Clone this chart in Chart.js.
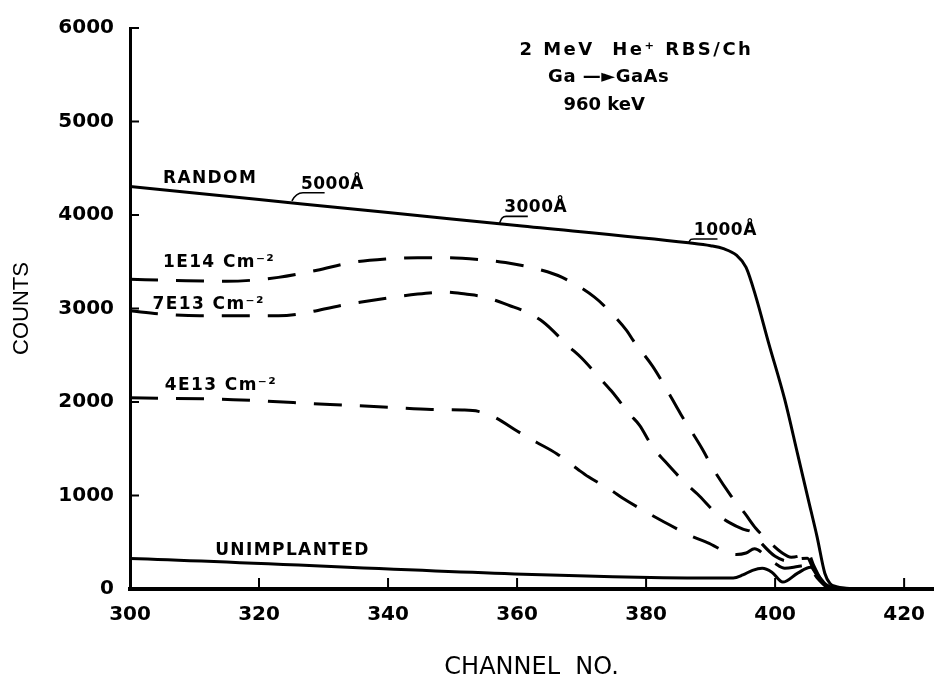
<!DOCTYPE html>
<html>
<head>
<meta charset="utf-8">
<title>RBS/Ch spectra</title>
<script src="https://cdn.jsdelivr.net/npm/chart.js@4.4.1/dist/chart.umd.min.js"></script>
<style>
    html, body { margin: 0; padding: 0; background: #fff; }
    #wrap { width: 939px; height: 680px; }
</style>
</head>
<body>
<div id="wrap"><canvas id="rbsChart" width="939" height="680"></canvas></div>
<script>
// Spectra: channel number and counts for each curve
const randomCh = [300, 320, 340, 360, 386.6, 390, 392, 394, 395.5, 397, 399, 401.5, 403.5, 405.1, 406.5, 407.7, 408.5, 409.5, 411, 413, 424.5];
const randomCounts = [4304, 4165, 4026, 3888, 3703, 3672, 3640, 3570, 3440, 3130, 2630, 2025, 1440, 970, 560, 169, 60, 25, 8, 0, 0];

const e14Ch = [300, 307, 315, 323, 329, 334.3, 340, 344.6, 348.8, 354.2, 358.2, 363.4, 367, 372, 374, 377, 378, 381, 382.6, 385.4, 388.8, 390.3, 393, 395.4, 397, 399, 401, 402.5, 404, 405, 406, 407.5, 409];
const e14Counts = [3312, 3300, 3291, 3333, 3410, 3491, 3530, 3544, 3544, 3523, 3491, 3418, 3333, 3122, 2995, 2764, 2658, 2384, 2205, 1867, 1487, 1297, 1013, 800, 650, 510, 390, 340, 360, 400, 250, 60, 0];

const e13hiCh = [300, 305, 310.8, 323, 334, 344.6, 349, 352, 355, 359, 361, 364, 368, 370, 372.8, 374.6, 377.5, 379, 381, 383, 385.7, 388, 391, 393, 395, 396.6, 398, 400, 402, 403.5, 405, 406, 407.5, 409];
const e13hiCounts = [2975, 2940, 2922, 2922, 3049, 3154, 3175, 3154, 3122, 3027, 2975, 2859, 2595, 2470, 2257, 2120, 1867, 1751, 1519, 1360, 1160, 1013, 802, 707, 640, 601, 480, 350, 300, 320, 330, 200, 50, 0];

const e13loCh = [300, 316, 331, 340, 346.7, 351.5, 354, 356.6, 360, 363, 366.2, 369.5, 371, 374.6, 376.4, 380.3, 382.8, 386.9, 389.5, 394, 395.5, 396.8, 398.8, 400, 401.5, 403.5, 405, 406.5, 408, 409];
const e13loCounts = [2046, 2025, 1973, 1945, 1920, 1915, 1900, 1835, 1690, 1570, 1445, 1276, 1203, 1055, 970, 812, 717, 570, 496, 369, 385, 430, 338, 274, 222, 240, 255, 120, 20, 0];

const unimplCh = [300, 393.5, 395, 396.5, 398, 399.5, 401.2, 403.5, 405.5, 406.5, 408, 409.5, 412, 424.5];
const unimplCounts = [327, 117, 150, 200, 222, 180, 74, 170, 232, 160, 42, 10, 0, 0];

// Axis ticks
const xTickValues = [300, 320, 340, 360, 380, 400, 420];
const yTickValues = [0, 1000, 2000, 3000, 4000, 5000, 6000];

// Text placed on the plot (channel, counts of the text anchor)
const curveLabels = [
    { text: 'RANDOM', ch: 305.1, counts: 4345 },
    { text: '1E14 Cm⁻²', ch: 305.1, counts: 3448 },
    { text: '7E13 Cm⁻²', ch: 303.5, counts: 2995 },
    { text: '4E13 Cm⁻²', ch: 305.4, counts: 2130 },
    { text: 'UNIMPLANTED', ch: 313.2, counts: 359 }
];
const depthMarks = [
    { text: '5000Å', ch: 326.5, counts: 4281, toCh: 325.1, toCounts: 4150 },
    { text: '3000Å', ch: 358.0, counts: 4028, toCh: 357.2, toCounts: 3900 },
    { text: '1000Å', ch: 387.4, counts: 3786, toCh: 386.6, toCounts: 3705 }
];
const headerLines = [
    { text: '2 MeV  He⁺ RBS/Ch', ch: 378.5, counts: 5715 },
    { text: 'Ga —►GaAs', ch: 374.2, counts: 5420 },
    { text: '960 keV', ch: 373.5, counts: 5125 }
];
const headerSpacing = ['2.5px', '0.5px', '0px'];

const X_MAX = 424.5;
const DASH = [28, 18];

function toPoints(xs, ys) {
    return xs.map((x, i) => ({ x: x, y: ys[i] }));
}

function drawText(ctx, text, x, y, align, font, spacing) {
    ctx.font = font;
    ctx.textAlign = align;
    ctx.textBaseline = 'alphabetic';
    if ('letterSpacing' in ctx) ctx.letterSpacing = spacing || '0px';
    ctx.fillText(text, x, y);
    if ('letterSpacing' in ctx) ctx.letterSpacing = '0px';
}

// Ticks pointing into the plot area
const inwardTicks = {
    id: 'inwardTicks',
    afterDatasetsDraw(chart) {
        const { ctx, scales: { x, y } } = chart;
        ctx.save();
        ctx.strokeStyle = '#000';
        ctx.lineWidth = 2;
        ctx.setLineDash([]);
        yTickValues.forEach(v => {
            if (v === 0) return;
            const py = y.getPixelForValue(v);
            ctx.beginPath();
            ctx.moveTo(x.left, py);
            ctx.lineTo(x.left + 9, py);
            ctx.stroke();
        });
        xTickValues.forEach(v => {
            if (v === xTickValues[0]) return;
            const px = x.getPixelForValue(v);
            ctx.beginPath();
            ctx.moveTo(px, y.bottom);
            ctx.lineTo(px, y.bottom - 11);
            ctx.stroke();
        });
        ctx.restore();
    }
};

// Curve names, depth markers and the experiment header
const plotText = {
    id: 'plotText',
    afterDatasetsDraw(chart) {
        const { ctx, scales: { x, y } } = chart;
        ctx.save();
        ctx.setLineDash([]);
        ctx.fillStyle = '#000';
        ctx.strokeStyle = '#000';

        curveLabels.forEach(l => {
            drawText(ctx, l.text, x.getPixelForValue(l.ch), y.getPixelForValue(l.counts),
                'left', 'bold 17px "DejaVu Sans"', '1.4px');
        });

        depthMarks.forEach(m => {
            const tx = x.getPixelForValue(m.ch);
            const ty = y.getPixelForValue(m.counts);
            drawText(ctx, m.text, tx, ty, 'left', 'bold 17px "DejaVu Sans"', '0.5px');
            // underline below the first two digits, bent down to the curve
            ctx.font = 'bold 17px "DejaVu Sans"';
            const w = ctx.measureText(m.text.slice(0, 2)).width;
            const uy = ty + 4;
            const px = x.getPixelForValue(m.toCh);
            const py = y.getPixelForValue(m.toCounts);
            ctx.lineWidth = 1.6;
            ctx.beginPath();
            ctx.moveTo(px, py);
            ctx.bezierCurveTo(px + 2, py - 4, tx - 3, uy, tx + 2, uy);
            ctx.lineTo(tx + w, uy);
            ctx.stroke();
        });

        headerLines.forEach((h, i) => {
            drawText(ctx, h.text, x.getPixelForValue(h.ch), y.getPixelForValue(h.counts),
                'center', 'bold 18px "DejaVu Sans"', headerSpacing[i]);
        });
        ctx.restore();
    }
};

function solidLine(data) {
    return {
        data: data,
        borderColor: '#000',
        borderWidth: 3,
        pointRadius: 0,
        fill: false,
        cubicInterpolationMode: 'monotone'
    };
}

function dashedLine(data) {
    const ds = solidLine(data);
    ds.borderDash = DASH;
    return ds;
}

function initChart() {
    const ctx = document.getElementById('rbsChart').getContext('2d');

    Chart.defaults.font.family = '"DejaVu Sans"';
    Chart.defaults.color = '#000';

    new Chart(ctx, {
        type: 'line',
        data: {
            datasets: [
                solidLine(toPoints(randomCh, randomCounts)),
                dashedLine(toPoints(e14Ch, e14Counts)),
                dashedLine(toPoints(e13hiCh, e13hiCounts)),
                dashedLine(toPoints(e13loCh, e13loCounts)),
                solidLine(toPoints(unimplCh, unimplCounts))
            ]
        },
        options: {
            responsive: false,
            animation: false,
            layout: { padding: { top: 20, right: 0, left: 0, bottom: 0 } },
            plugins: {
                legend: { display: false },
                tooltip: { enabled: false }
            },
            scales: {
                x: {
                    type: 'linear',
                    min: xTickValues[0],
                    max: X_MAX,
                    afterBuildTicks: s => { s.ticks = xTickValues.map(v => ({ value: v })); },
                    afterFit: s => { s.height = 91; },
                    grid: { display: false, drawTicks: false },
                    border: { display: true, width: 4, color: '#000' },
                    ticks: {
                        padding: 14,
                        maxRotation: 0,
                        autoSkip: false,
                        callback: v => String(v),
                        font: { family: '"DejaVu Sans"', size: 20, weight: 'bold' }
                    },
                    title: {
                        display: true,
                        text: 'CHANNEL  NO.',
                        font: { family: '"DejaVu Sans"', size: 24, weight: 'normal', lineHeight: 1 },
                        padding: { top: 0, bottom: 0 }
                    }
                },
                y: {
                    min: yTickValues[0],
                    max: yTickValues[yTickValues.length - 1],
                    afterBuildTicks: s => { s.ticks = yTickValues.map(v => ({ value: v })); },
                    afterFit: s => { s.width = 130; },
                    grid: { display: false, drawTicks: false },
                    border: { display: true, width: 3, color: '#000' },
                    ticks: {
                        padding: 16,
                        callback: v => String(v),
                        font: { family: '"DejaVu Sans"', size: 20, weight: 'bold' }
                    },
                    title: {
                        display: true,
                        text: 'COUNTS',
                        font: { family: '"Liberation Sans"', size: 22, weight: 'normal', lineHeight: 1 },
                        padding: { top: 11, bottom: 0 }
                    }
                }
            }
        },
        plugins: [inwardTicks, plotText]
    });
}

document.addEventListener('DOMContentLoaded', function() {
    initChart();
});
</script>
</body>
</html>
